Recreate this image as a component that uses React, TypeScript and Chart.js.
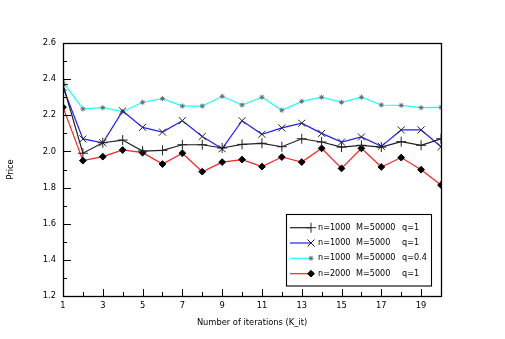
import React, { useEffect, useRef } from "react";
import { Chart, registerables } from "chart.js";
import { drawPoint } from "chart.js/helpers";

Chart.register(...registerables);

const iterations = [1, 2, 3, 4, 5, 6, 7, 8, 9, 10, 11, 12, 13, 14, 15, 16, 17, 18, 19, 20];
const seriesA = [2.37, 1.99, 2.048, 2.063, 2.002, 2.006, 2.037, 2.037, 2.019, 2.039, 2.045, 2.026, 2.07, 2.052, 2.024, 2.034, 2.024, 2.054, 2.034, 2.07];
const seriesB = [2.355, 2.069, 2.048, 2.224, 2.133, 2.107, 2.17, 2.083, 2.015, 2.17, 2.095, 2.13, 2.156, 2.1, 2.052, 2.08, 2.028, 2.119, 2.119, 2.026];
const seriesC = [2.383, 2.235, 2.242, 2.22, 2.272, 2.292, 2.251, 2.251, 2.305, 2.257, 2.3, 2.228, 2.277, 2.3, 2.272, 2.3, 2.257, 2.255, 2.242, 2.244];
const seriesD = [2.245, 1.949, 1.971, 2.008, 1.993, 1.93, 1.99, 1.888, 1.941, 1.955, 1.916, 1.969, 1.941, 2.017, 1.906, 2.017, 1.914, 1.966, 1.899, 1.814];

const legendN = ["n=1000", "n=1000", "n=1000", "n=2000"];
const legendM = ["M=50000", "M=5000", "M=50000", "M=5000"];
const legendQ = ["q=1", "q=1", "q=0.4", "q=1"];

const xTickValues = [1, 3, 5, 7, 9, 11, 13, 15, 17, 19];
const xMinorValues = [2, 4, 6, 8, 10, 12, 14, 16, 18, 20];
const yTickValues = [1.2, 1.4, 1.6, 1.8, 2.0, 2.2, 2.4, 2.6];
const yMinorValues = [1.3, 1.5, 1.7, 1.9, 2.1, 2.3, 2.5];

const FONT = "DejaVu Sans";

const framePlugin = {
  id: "framePlugin",
  afterDraw(chart: any) {
    const ctx = chart.ctx;
    const { left, right, top, bottom } = chart.chartArea;
    const xs = chart.scales.x;
    const ys = chart.scales.y;
    ctx.save();
    ctx.strokeStyle = "#000";
    ctx.lineWidth = 1;
    ctx.beginPath();
    for (const v of xTickValues) {
      const px = Math.round(xs.getPixelForValue(v)) + 0.5;
      ctx.moveTo(px, bottom);
      ctx.lineTo(px, bottom - 7);
    }
    for (const v of xMinorValues) {
      const px = Math.round(xs.getPixelForValue(v)) + 0.5;
      ctx.moveTo(px, bottom);
      ctx.lineTo(px, bottom - 4);
    }
    for (const v of yTickValues) {
      const py = Math.round(ys.getPixelForValue(v)) + 0.5;
      ctx.moveTo(left, py);
      ctx.lineTo(left + 8, py);
    }
    for (const v of yMinorValues) {
      const py = Math.round(ys.getPixelForValue(v)) + 0.5;
      ctx.moveTo(left, py);
      ctx.lineTo(left + 4, py);
    }
    ctx.stroke();
    ctx.lineWidth = 1.3;
    ctx.strokeRect(Math.round(left) + 0.5, Math.round(top) + 0.5, Math.round(right - left), Math.round(bottom - top));

    // legend
    const bx = 286.5, by = 214.5, bw = 145, bh = 71.5;
    ctx.fillStyle = "#fff";
    ctx.fillRect(bx, by, bw, bh);
    ctx.lineWidth = 1.1;
    ctx.strokeStyle = "#000";
    ctx.strokeRect(bx, by, bw, bh);
    const rows = [227.7, 243, 258.3, 273.7];
    ctx.font = `8.1px "${FONT}"`;
    ctx.textBaseline = "middle";
    ctx.textAlign = "left";
    chart.data.datasets.forEach((ds: any, i: number) => {
      const y = rows[i];
      ctx.strokeStyle = ds.borderColor;
      ctx.lineWidth = 1.2;
      ctx.beginPath();
      ctx.moveTo(290, y);
      ctx.lineTo(311, y);
      ctx.stroke();
      ctx.strokeStyle = ds.pointBorderColor;
      ctx.fillStyle = ds.pointBackgroundColor;
      ctx.lineWidth = 1;
      drawPoint(ctx, { pointStyle: ds.pointStyle, radius: ds.pointRadius, borderWidth: 1, rotation: 0 }, 311, y);
      ctx.fillStyle = "#000";
      ctx.fillText(legendN[i], 318, y);
      ctx.fillText(legendM[i], 356, y);
      ctx.fillText(legendQ[i], 402, y);
    });
    ctx.restore();
  },
};

export default function App() {
  const ref = useRef<HTMLCanvasElement>(null);
  useEffect(() => {
    if (!ref.current) return;
    const mk = (data: number[]) => iterations.map((x, i) => ({ x, y: data[i] }));
    const chart = new Chart(ref.current, {
      type: "line",
      data: {
        datasets: [
          { label: "A", data: mk(seriesA), borderColor: "#202020", borderWidth: 1.2, pointStyle: "cross", pointRadius: 5, pointBorderColor: "#222", pointBackgroundColor: "#222", pointBorderWidth: 1 },
          { label: "B", data: mk(seriesB), borderColor: "#1f1fff", borderWidth: 1.2, pointStyle: "crossRot", pointRadius: 5, pointBorderColor: "#222", pointBackgroundColor: "#222", pointBorderWidth: 1 },
          { label: "C", data: mk(seriesC), borderColor: "#1cffff", borderWidth: 1.2, pointStyle: "star", pointRadius: 2.5, pointBorderColor: "#666", pointBackgroundColor: "#666", pointBorderWidth: 1 },
          { label: "D", data: mk(seriesD), borderColor: "#ff1f1f", borderWidth: 1.2, pointStyle: "rectRot", pointRadius: 3.4, pointBorderColor: "#000", pointBackgroundColor: "#000", pointBorderWidth: 1 },
        ] as any,
      },
      options: {
        responsive: false,
        animation: false,
        devicePixelRatio: 1,
        layout: { padding: { left: 0, top: 43, right: 64, bottom: 0 } },
        plugins: { legend: { display: false }, tooltip: { enabled: false } },
        elements: { line: { tension: 0 } },
        scales: {
          x: {
            type: "linear",
            min: 1,
            max: 20,
            afterBuildTicks: (s: any) => { s.ticks = xTickValues.map((v) => ({ value: v })); },
            afterFit: (s: any) => { s.height = 43; },
            grid: { display: false, drawTicks: false },
            border: { display: false },
            ticks: { color: "#000", font: { family: FONT, size: 8.3 }, padding: 5, maxRotation: 0, autoSkip: false, callback: (v: any) => String(v) },
            title: { display: true, text: "Number of iterations (K_it)", color: "#000", font: { family: FONT, size: 8.3 }, padding: { top: 0, bottom: 11 } },
          },
          y: {
            type: "linear",
            min: 1.2,
            max: 2.6,
            afterBuildTicks: (s: any) => { s.ticks = yTickValues.map((v) => ({ value: v })); },
            afterFit: (s: any) => { s.width = 63; },
            grid: { display: false, drawTicks: false },
            border: { display: false },
            ticks: { color: "#000", font: { family: FONT, size: 8.3 }, padding: 7, autoSkip: false, callback: (v: any) => Number(v).toFixed(1) },
            title: { display: true, text: "Price", color: "#000", font: { family: FONT, size: 8.3 }, padding: { top: 6, bottom: 0 } },
          },
        },
      } as any,
      plugins: [framePlugin],
    });
    return () => chart.destroy();
  }, []);
  return (
    <div style={{ position: "fixed", left: 0, top: 0, width: 505, height: 339, background: "#fff" }}>
      <canvas ref={ref} width={505} height={339} style={{ width: 505, height: 339 }} />
    </div>
  );
}
